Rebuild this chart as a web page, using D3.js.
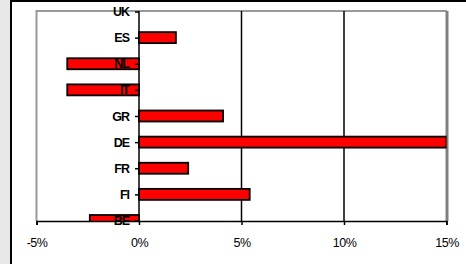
<!DOCTYPE html>
<html>
<head>
<meta charset="utf-8">
<script src="https://cdn.jsdelivr.net/npm/d3@7"></script>
<style>
  html, body { margin: 0; padding: 0; background: #e8e8e8; }
  svg { display: block; }
</style>
</head>
<body>
<div id="chart"></div>
<script>
// categories top to bottom, values in %
const countries = ['UK', 'ES', 'NL', 'IT', 'GR', 'DE', 'FR', 'FI', 'BE'];
const changes = [0, 1.8, -3.5, -3.5, 4.1, 15, 2.4, 5.4, -2.4];
const xTicks = [-5, 0, 5, 10, 15];
const gridAt = [5, 10];

const W = 466, H = 264;
const plot = { left: 36.5, right: 446.5, top: 11, bottom: 221 };

const svg = d3.select('#chart').append('svg')
    .attr('width', W)
    .attr('height', H);

// outer chart frame
svg.append('rect')
    .attr('x', 11).attr('y', 1)
    .attr('width', 500).attr('height', 300)
    .attr('fill', '#fff')
    .attr('stroke', '#000')
    .attr('stroke-width', 2);

const data = countries.map((c, i) => ({ c, v: changes[i] }));

const x = d3.scaleLinear().domain([-5, 15]).range([plot.left, plot.right]);
const y = d3.scalePoint().domain(countries).range([plot.top + 0.5, plot.bottom - 0.5]);

svg.append('defs').append('clipPath').attr('id', 'clip')
  .append('rect')
    .attr('x', plot.left).attr('y', plot.top)
    .attr('width', plot.right - plot.left)
    .attr('height', plot.bottom - plot.top);

// plot border (gray)
svg.append('path')
    .attr('d', `M${plot.left},${plot.bottom}V${plot.top}H${plot.right + 0.5}`)
    .attr('fill', 'none')
    .attr('stroke', '#999')
    .attr('stroke-width', 2);
svg.append('line')
    .attr('x1', plot.right + 0.5).attr('x2', plot.right + 0.5)
    .attr('y1', plot.top).attr('y2', plot.bottom)
    .attr('stroke', '#808080')
    .attr('stroke-width', 3);

// gridlines
svg.selectAll('.grid').data(gridAt).enter().append('line')
    .attr('class', 'grid')
    .attr('x1', d => x(d)).attr('x2', d => x(d))
    .attr('y1', plot.top).attr('y2', plot.bottom)
    .attr('stroke', '#000')
    .attr('stroke-width', 1.5);

// bars
svg.append('g').attr('clip-path', 'url(#clip)')
  .selectAll('rect').data(data).enter().append('rect')
    .attr('x', d => x(Math.min(0, d.v)))
    .attr('y', d => y(d.c) - 5.5)
    .attr('width', d => Math.abs(x(d.v) - x(0)))
    .attr('height', 11)
    .attr('fill', '#ff0000')
    .attr('stroke', '#000')
    .attr('stroke-width', 1.8);

// bottom axis
const xAxis = svg.append('g')
    .attr('transform', `translate(0,${plot.bottom})`)
    .call(d3.axisBottom(x).tickValues(xTicks).tickSize(4).tickPadding(13)
        .tickFormat(d => d + '%'));
xAxis.select('.domain').attr('stroke', '#000').attr('stroke-width', 1.5);
xAxis.selectAll('.tick line').attr('stroke', '#000').attr('stroke-width', 1.5);
xAxis.selectAll('.tick text')
    .attr('fill', '#000')
    .style('font-family', 'Liberation Sans, Arial, sans-serif')
    .style('font-size', '12.5px')
    .style('letter-spacing', '-0.5px');

// category axis at 0%
const yAxis = svg.append('g')
    .attr('transform', `translate(${x(0)},0)`)
    .call(d3.axisLeft(y).tickSize(4).tickPadding(6).tickSizeOuter(0));
yAxis.select('.domain')
    .attr('d', `M0,${plot.top}V${plot.bottom}`)
    .attr('stroke', '#000').attr('stroke-width', 1.5);
yAxis.selectAll('.tick line').attr('stroke', '#000').attr('stroke-width', 1.5);
yAxis.selectAll('.tick text')
    .attr('fill', '#000')
    .style('font-family', 'Liberation Sans, Arial, sans-serif')
    .style('font-size', '12.5px')
    .style('font-weight', 'bold')
    .style('letter-spacing', '-1px');
</script>
</body>
</html>
